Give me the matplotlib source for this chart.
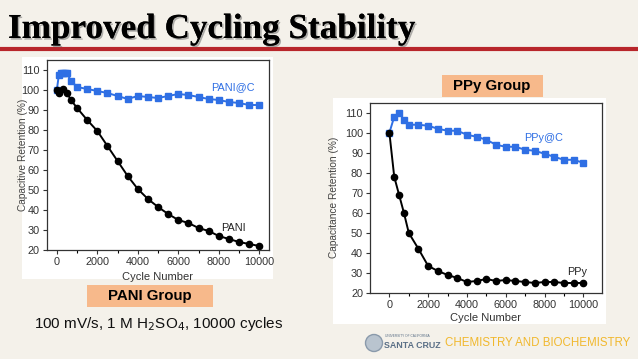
import numpy as np
import matplotlib.pyplot as plt
import matplotlib.patches as patches
import matplotlib.patheffects as pe

# data
pani_c_x = [0, 100, 200, 300, 400, 500, 700, 1000, 1500, 2000, 2500, 3000, 3500, 4000, 4500,
            5000, 5500, 6000, 6500, 7000, 7500, 8000, 8500, 9000, 9500, 10000]
pani_c_y = [100, 107.5, 108.5, 108.5, 108.5, 108.5, 104.5, 101.5, 100.5, 99.5, 98.5, 97, 95.5, 97, 96.5,
            96, 97, 98, 97.5, 96.5, 95.5, 95, 94, 93.5, 92.5, 92.5]
pani_x = [0, 100, 300, 500, 700, 1000, 1500, 2000, 2500, 3000, 3500, 4000, 4500, 5000,
          5500, 6000, 6500, 7000, 7500, 8000, 8500, 9000, 9500, 10000]
pani_y = [100, 98.5, 100.5, 98.5, 95, 91, 85, 79.5, 72, 64.5, 57, 50.5, 45.5, 41.5,
          38, 35, 33.5, 31, 29.5, 27, 25.5, 24, 23, 22]
ppy_x = [0, 250, 500, 750, 1000, 1500, 2000, 2500, 3000, 3500, 4000, 4500, 5000, 5500,
         6000, 6500, 7000, 7500, 8000, 8500, 9000, 9500, 10000]
ppy_c_y = [100, 108, 110, 106.5, 104, 104, 103.5, 102, 101, 101, 99, 98, 96.5, 94,
           93, 93, 91.5, 91, 89.5, 88, 86.5, 86.5, 85]
ppy_y = [100, 78, 69, 60, 50, 42, 33.5, 31, 29, 27.5, 25.5, 26, 27, 26,
         26.5, 26, 25.5, 25, 25.5, 25.5, 25, 25, 25]

bg = '#f4f1ea'
blue = '#2f6fe4'
W, H = 638, 359

fig = plt.figure(figsize=(6.38, 3.59), dpi=100, facecolor=bg)
plt.rcParams['font.family'] = ['Liberation Sans', 'DejaVu Sans']

def fx(px):
    return px / W

def fy(py):
    return 1 - py / H

# title with shadow and red rule
fig.text(fx(8), fy(38), "Improved Cycling Stability", family='Liberation Serif',
         fontweight='bold', fontsize=25.3, color='black', va='baseline',
         path_effects=[pe.withSimplePatchShadow(offset=(1.2, -1.2), shadow_rgbFace='#666666', alpha=0.5),
                       pe.Normal()])
fig.add_artist(plt.Line2D([0, 1], [fy(49), fy(49)], color='#b8262b', lw=3))

# white panels behind the charts
fig.add_artist(patches.Rectangle((fx(22), fy(279)), fx(251), 222 / H, facecolor='white',
                                 edgecolor='none', transform=fig.transFigure, zorder=0))
fig.add_artist(patches.Rectangle((fx(333), fy(324)), fx(273), 226 / H, facecolor='white',
                                 edgecolor='none', transform=fig.transFigure, zorder=0))

def style(ax, xlim, ylabel, ylab_x, xlab_y):
    ax.set_xlim(*xlim)
    ax.set_ylim(20, 115)
    ax.set_xticks(np.arange(0, 10001, 2000))
    ax.set_xticks(np.arange(1000, 10000, 2000), minor=True)
    ax.set_yticks(np.arange(20, 111, 10))
    ax.tick_params(labelsize=7.8, colors='#333333', length=3, width=0.8, pad=2)
    ax.tick_params(which='minor', length=2, width=0.8)
    for s in ax.spines.values():
        s.set_color('#333333')
        s.set_linewidth(0.9)
    ax.set_xlabel("Cycle Number", fontsize=8, color='#333333')
    ax.set_ylabel(ylabel, fontsize=7.3, color='#444444')
    ax.yaxis.set_label_coords(ylab_x, 0.5)
    ax.xaxis.set_label_coords(0.5, xlab_y)
    ax.patch.set_alpha(0)

# PANI chart
ax1 = fig.add_axes([fx(46.7), fy(250), fx(222.3), 190 / H])
ax1.plot(pani_c_x, pani_c_y, color=blue, marker='s', markersize=4.5, lw=1.4)
ax1.plot(pani_x, pani_y, color='black', marker='o', markersize=4.5, lw=1.4)
style(ax1, (-500, 10480), "Capacitive Retention (%)", -0.085, -0.115)
ax1.text(8700, 101.5, "PANI@C", color=blue, fontsize=7.8, ha='center', va='center')
ax1.text(8700, 31, "PANI", color='#222222', fontsize=7.8, ha='center', va='center')

# PPy chart
ax2 = fig.add_axes([fx(370), fy(293), fx(231.7), 190.3 / H])
ax2.plot(ppy_x, ppy_c_y, color=blue, marker='s', markersize=4.5, lw=1.4)
ax2.plot(ppy_x, ppy_y, color='black', marker='o', markersize=4.5, lw=1.4)
style(ax2, (-1000, 10950), "Capacitance Retention (%)", -0.134, -0.105)
ax2.text(7950, 97.5, "PPy@C", color=blue, fontsize=7.8, ha='center', va='center')
ax2.text(9700, 30.5, "PPy", color='#222222', fontsize=7.8, ha='center', va='center')

# group labels
orange = '#f7b98b'
fig.add_artist(patches.Rectangle((fx(87), fy(307)), fx(126), 22 / H, facecolor=orange,
                                 edgecolor='none', transform=fig.transFigure))
fig.text(fx(150), fy(296), "PANI Group", fontsize=10.8, fontweight='bold', ha='center', va='center')
fig.add_artist(patches.Rectangle((fx(442), fy(97)), fx(101), 22 / H, facecolor=orange,
                                 edgecolor='none', transform=fig.transFigure))
fig.text(fx(492), fy(86), "PPy Group", fontsize=10.8, fontweight='bold', ha='center', va='center')

fig.text(fx(34), fy(324), "100 mV/s, 1 M H$_2$SO$_4$, 10000 cycles", fontsize=11,
         ha='left', va='center', color='#111111')

# footer logo
fig.add_artist(patches.Ellipse((fx(374), fy(343)), 17 / W, 17 / H, facecolor='#b9c4cf',
                               edgecolor='#8a9aab', transform=fig.transFigure))
fig.text(fx(385), fy(336), "UNIVERSITY OF CALIFORNIA", fontsize=2.3, color='#5a6f86', va='center')
fig.text(fx(384), fy(346), "SANTA CRUZ", fontsize=6.4, fontweight='bold', color='#5a6f86', va='center')
fig.text(fx(445), fy(343), "CHEMISTRY AND BIOCHEMISTRY", fontsize=8.3, color='#f1b82d', va='center')

fig.savefig("out.png", dpi=100, facecolor=bg)
